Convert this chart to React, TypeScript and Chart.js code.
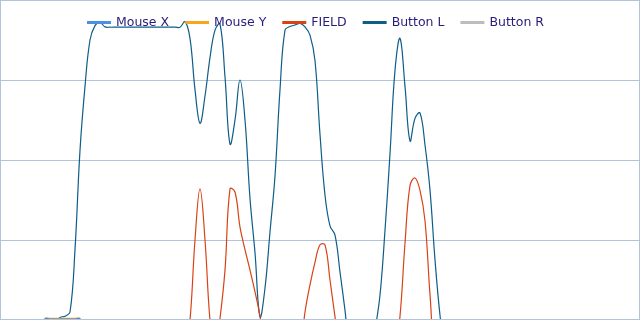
import React, { useEffect, useRef } from 'react';
import { Chart, registerables } from 'chart.js';

Chart.register(...registerables);

// sample index, one sample per step
const categories = [
  '0', '1', '2', '3', '4', '5', '6', '7', '8', '9',
  '10', '11', '12', '13', '14', '15', '16', '17', '18', '19',
  '20', '21', '22', '23', '24', '25', '26', '27', '28', '29',
  '30', '31', '32', '33', '34', '35', '36', '37', '38', '39',
  '40', '41', '42', '43', '44', '45', '46', '47', '48', '49',
  '50', '51', '52', '53', '54', '55', '56', '57', '58', '59',
  '60', '61', '62', '63', '64', '65', '66', '67', '68', '69',
  '70', '71', '72', '73', '74', '75', '76', '77', '78', '79',
  '80', '81', '82', '83', '84', '85', '86', '87', '88', '89',
  '90', '91', '92', '93', '94', '95', '96', '97', '98', '99',
  '100', '101', '102', '103', '104', '105', '106', '107', '108', '109',
  '110', '111', '112', '113', '114', '115', '116', '117', '118', '119',
  '120', '121', '122', '123', '124', '125', '126', '127', '128',
];

const mouseX = [
  -5, -5, -5, -5, -5, -5, -5, -5, -5, 0.3,
  0.3, 0.3, 0.3, 0.3, 0.3, 0.3, 0.3, -5, -5, -5,
  -5, -5, -5, -5, -5, -5, -5, -5, -5, -5,
  -5, -5, -5, -5, -5, -5, -5, -5, -5, -5,
  -5, -5, -5, -5, -5, -5, -5, -5, -5, -5,
  -5, -5, -5, -5, -5, -5, -5, -5, -5, -5,
  -5, -5, -5, -5, -5, -5, -5, -5, -5, -5,
  -5, -5, -5, -5, -5, -5, -5, -5, -5, -5,
  -5, -5, -5, -5, -5, -5, -5, -5, -5, -5,
  -5, -5, -5, -5, -5, -5, -5, -5, -5, -5,
  -5, -5, -5, -5, -5, -5, -5, -5, -5, -5,
  -5, -5, -5, -5, -5, -5, -5, -5, -5, -5,
  -5, -5, -5, -5, -5, -5, -5, -5, -5,
];

const mouseY = [
  -5, -5, -5, -5, -5, -5, -5, -5, -5, 0.5,
  0.5, 0.5, 0.5, 0.5, 0.5, 0.5, 0.5, -5, -5, -5,
  -5, -5, -5, -5, -5, -5, -5, -5, -5, -5,
  -5, -5, -5, -5, -5, -5, -5, -5, -5, -5,
  -5, -5, -5, -5, -5, -5, -5, -5, -5, -5,
  -5, -5, -5, -5, -5, -5, -5, -5, -5, -5,
  -5, -5, -5, -5, -5, -5, -5, -5, -5, -5,
  -5, -5, -5, -5, -5, -5, -5, -5, -5, -5,
  -5, -5, -5, -5, -5, -5, -5, -5, -5, -5,
  -5, -5, -5, -5, -5, -5, -5, -5, -5, -5,
  -5, -5, -5, -5, -5, -5, -5, -5, -5, -5,
  -5, -5, -5, -5, -5, -5, -5, -5, -5, -5,
  -5, -5, -5, -5, -5, -5, -5, -5, -5,
];

const field = [
  -10, -10, -10, -10, -10, -10, -10, -10, -10, -10,
  -10, -10, -10, -10, -10, -10, -10, -10, -10, -10,
  -10, -10, -10, -10, -10, -10, -10, -10, -10, -10,
  -10, -10, -10, -10, -10, -10, -10, -10, 0, 25,
  41, 25, 0, -10, 0.5, 15.6, 41, 40, 29, 22,
  15.6, 8.8, 1.2, -10, -10, -10, -10, -10, -10, -10,
  -10, 2.5, 11, 18, 23.5, 23.5, 12.5, 1, -10, -10,
  -10, -10, -10, -10, -10, -10, -10, -10, -10, -10,
  1.2, 24, 42, 44.4, 40.5, 31, 8, -10, -10, -10,
  -10, -10, -10, -10, -10, -10, -10, -10, -10, -10,
  -10, -10, -10, -10, -10, -10, -10, -10, -10, -10,
  -10, -10, -10, -10, -10, -10, -10, -10, -10, -10,
  -10, -10, -10, -10, -10, -10, -10, -10, -10,
];

const buttonL = [
  -10, -10, -10, -10, -10, -10, -10, -10, -10, -10,
  -6, -1, 0.8, 1.2, 2.5, 22, 53, 73, 87.5, 92,
  93, 91.6, 91.5, 91.5, 91.5, 91.5, 91.5, 91.5, 91.5, 91.5,
  91.5, 91.5, 91.5, 91.5, 91.5, 91.5, 91.5, 93.2, 88, 72,
  61.5, 70, 82, 90.6, 92.5, 76, 55, 62.5, 75, 62.5,
  38, 21, 1, 10, 27.5, 45, 72, 90.6, 91.7, 92.2,
  92.7, 91.6, 89, 81, 58, 39, 29.4, 26.5, 15, 3,
  -10, -10, -10, -10, -10, -3, 7.8, 28, 52, 78,
  88, 73, 56, 63, 64.7, 54.7, 40.6, 18.8, 1.5, -10,
  -10, -10, -10, -10, -10, -10, -10, -10, -10, -10,
  -10, -10, -10, -10, -10, -10, -10, -10, -10, -10,
  -10, -10, -10, -10, -10, -10, -10, -10, -10, -10,
  -10, -10, -10, -10, -10, -10, -10, -10, -10,
];

const buttonR = [
  -10, -10, -10, -10, -10, -10, -10, -10, -10, -10,
  -10, -10, -10, -10, -10, -10, -10, -10, -10, -10,
  -10, -10, -10, -10, -10, -10, -10, -10, -10, -10,
  -10, -10, -10, -10, -10, -10, -10, -10, -10, -10,
  -10, -10, -10, -10, -10, -10, -10, -10, -10, -10,
  -10, -10, -10, -10, -10, -10, -10, -10, -10, -10,
  -10, -10, -10, -10, -10, -10, -10, -10, -10, -10,
  -10, -10, -10, -10, -10, -10, -10, -10, -10, -10,
  -10, -10, -10, -10, -10, -10, -10, -10, -10, -10,
  -10, -10, -10, -10, -10, -10, -10, -10, -10, -10,
  -10, -10, -10, -10, -10, -10, -10, -10, -10, -10,
  -10, -10, -10, -10, -10, -10, -10, -10, -10, -10,
  -10, -10, -10, -10, -10, -10, -10, -10, -10,
];

const seriesNames = ['Mouse X', 'Mouse Y', 'FIELD', 'Button L', 'Button R'];
const seriesColors = ['#4a90e2', '#f5a623', '#d84315', '#0e5d88', '#bdbdbd'];
const yTicks = [0, 25, 50, 75, 100];

const FRAME_COLOR = '#b0c4de';
const LEGEND_TEXT = '#261c7a';
const FONT = '12.5px "DejaVu Sans"';

const framePlugin = {
  id: 'frame',
  afterDatasetsDraw(chart: any) {
    const ctx = chart.ctx;
    ctx.save();
    ctx.strokeStyle = FRAME_COLOR;
    ctx.lineWidth = 1;
    ctx.strokeRect(0.5, 0.5, chart.width - 1, chart.height - 1);
    ctx.restore();
  },
};

const overlayLegend = {
  id: 'overlayLegend',
  afterDraw(chart: any) {
    const ctx = chart.ctx;
    const ds = chart.data.datasets;
    const lineLen = 24;
    const gap = 5;
    const itemPad = 16;
    ctx.save();
    ctx.font = FONT;
    const widths = ds.map((d: any) => ctx.measureText(d.label).width);
    let total = 0;
    widths.forEach((w: number, i: number) => {
      total += lineLen + gap + w + (i < widths.length - 1 ? itemPad : 0);
    });
    const area = chart.chartArea;
    let x = Math.round((area.left + area.right) / 2 - total / 2) - 5;
    const y = 22.5;
    ds.forEach((d: any, i: number) => {
      ctx.strokeStyle = d.borderColor;
      ctx.lineWidth = 3;
      ctx.beginPath();
      ctx.moveTo(x, y);
      ctx.lineTo(x + lineLen, y);
      ctx.stroke();
      ctx.fillStyle = LEGEND_TEXT;
      ctx.textBaseline = 'middle';
      ctx.textAlign = 'left';
      ctx.fillText(d.label, x + lineLen + gap, y);
      x += lineLen + gap + widths[i] + itemPad;
    });
    ctx.restore();
  },
};

export default function App() {
  const ref = useRef<HTMLCanvasElement | null>(null);

  useEffect(() => {
    if (!ref.current) return;
    Chart.defaults.font.family = '"DejaVu Sans"';
    const values = [mouseX, mouseY, field, buttonL, buttonR];
    const chart = new Chart(ref.current, {
      type: 'line',
      data: {
        labels: categories,
        datasets: seriesNames.map((name, i) => ({
          label: name,
          data: values[i],
          borderColor: seriesColors[i],
          backgroundColor: seriesColors[i],
          borderWidth: 1.2,
          pointRadius: 0,
          pointHoverRadius: 0,
          tension: 0.4,
          capBezierPoints: false,
          fill: false,
        })),
      },
      options: {
        animation: false,
        responsive: false,
        events: [],
        layout: { padding: 0 },
        elements: { line: { capBezierPoints: false } },
        plugins: {
          legend: { display: false },
          tooltip: { enabled: false },
        },
        scales: {
          x: {
            display: false,
            offset: false,
          },
          y: {
            display: true,
            min: yTicks[0],
            max: yTicks[yTicks.length - 1],
            afterBuildTicks: (scale: any) => {
              scale.ticks = yTicks.map((v) => ({ value: v }));
            },
            ticks: { display: false },
            border: { display: false },
            grid: { color: FRAME_COLOR, lineWidth: 1, drawTicks: false },
          },
        },
      },
      plugins: [framePlugin, overlayLegend],
    });
    return () => chart.destroy();
  }, []);

  return (
    <div style={{ position: 'fixed', left: 0, top: 0, width: 640, height: 320, background: '#fff' }}>
      <canvas ref={ref} width={640} height={320} style={{ display: 'block', width: 640, height: 320 }} />
    </div>
  );
}
